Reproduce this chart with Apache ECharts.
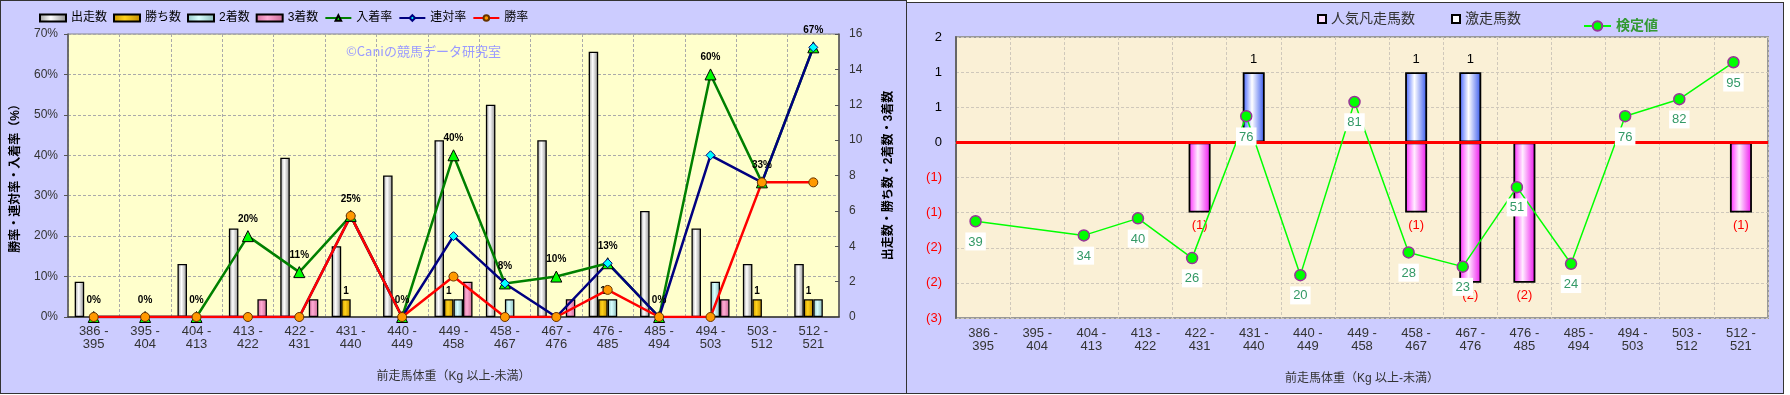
<!DOCTYPE html>
<html><head><meta charset="utf-8">
<script src="https://cdn.jsdelivr.net/npm/echarts@6/dist/echarts.min.js"></script>
<style>
html,body{margin:0;padding:0;background:#fff;width:1790px;height:395px;overflow:hidden;}
#left{position:absolute;left:0;top:0;width:906px;height:393px;}
#right{position:absolute;left:906px;top:2px;width:877px;height:391px;}
.frame{position:absolute;box-sizing:border-box;border:1px solid #333;pointer-events:none;}
</style></head><body>
<div id="left"></div><div id="right"></div>
<div class="frame" style="left:0;top:0;width:907px;height:394px"></div>
<div class="frame" style="left:906px;top:2px;width:878px;height:392px"></div>
<script>
// ---------- data ----------
const categories = ['386 -\n395','395 -\n404','404 -\n413','413 -\n422','422 -\n431','431 -\n440','440 -\n449','449 -\n458','458 -\n467','467 -\n476','476 -\n485','485 -\n494','494 -\n503','503 -\n512','512 -\n521'];
const runners      = [2, 0, 3, 5, 9, 4, 8, 10, 12, 10, 15, 6, 5, 3, 3];
const wins         = [0, 0, 0, 0, 0, 1, 0, 1, 0, 0, 1, 0, 0, 1, 1];
const seconds      = [0, 0, 0, 0, 0, 0, 0, 1, 1, 0, 1, 0, 2, 0, 1];
const thirds       = [0, 0, 0, 1, 1, 0, 0, 2, 0, 1, 0, 0, 1, 0, 0];
const placeRate    = [0, 0, 0, 20, 11.1, 25, 0, 40, 8.3, 10, 13.3, 0, 60, 33.3, 66.7];
const quinellaRate = [0, 0, 0, 0, 0, 25, 0, 20, 8.3, 0, 13.3, 0, 40, 33.3, 66.7];
const winRate      = [0, 0, 0, 0, 0, 25, 0, 10, 0, 0, 6.7, 0, 0, 33.3, 33.3];

const popularFailed = [0, 0, 0, 0, -1, 0, 0, 0, -1, -2, -2, 0, 0, 0, -1];
const longshotRan   = [0, 0, 0, 0, 0, 1, 0, 0, 1, 1, 0, 0, 0, 0, 0];
const testValue     = [39, null, 34, 40, 26, 76, 20, 81, 28, 23, 51, 24, 76, 82, 95];

const FONT = '"Liberation Sans","Noto Sans CJK JP",sans-serif';
const nz = a => a.map(v => v === 0 ? null : v);
const hgrad = (a, b, c) => ({type:'linear', x:0, y:0, x2:1, y2:0, colorStops:[{offset:0,color:a},{offset:0.42,color:b},{offset:1,color:c}]});

// ---------- left chart ----------
const left = echarts.init(document.getElementById('left'));
const barBase = {type:'bar', yAxisIndex:1, barGap:'0%', barCategoryGap:'26%'};
const bBorder = {borderColor:'#000', borderWidth:1.3};
left.setOption({
  backgroundColor:'#CCCCFF',
  textStyle:{fontFamily:FONT},
  animation:false,
  legend:{left:34, top:7, itemWidth:26, itemHeight:7, itemGap:6,
    textStyle:{fontSize:12, color:'#000', fontFamily:FONT},
    data:[{name:'出走数',icon:'rect'},{name:'勝ち数',icon:'rect'},{name:'2着数',icon:'rect'},{name:'3着数',icon:'rect'},'入着率','連対率','勝率']},
  graphic:[{type:'text', left:346, top:45, z:1, style:{text:'©Caniの競馬データ研究室', fill:'#9a9aff', font:'13px "Noto Sans CJK JP"'}}],
  grid:{left:68, top:34, width:771, height:283, show:true, backgroundColor:'#FFFFCC', borderColor:'#888', borderWidth:1},
  xAxis:{type:'category', data:categories, boundaryGap:true,
    name:'前走馬体重（Kg 以上-未満）', nameLocation:'middle', nameGap:54,
    nameTextStyle:{fontSize:12, color:'#333', fontFamily:FONT},
    axisLine:{lineStyle:{color:'#333', width:1.5}}, axisTick:{show:false},
    axisLabel:{fontSize:13, color:'#333', lineHeight:13, margin:8, interval:0, fontFamily:FONT},
    splitLine:{show:true, lineStyle:{color:'#aaa', type:[3,2]}}},
  yAxis:[
    {type:'value', min:0, max:70, interval:10, position:'left',
     name:'勝率・連対率・入着率（%）', nameLocation:'middle', nameGap:46, nameRotate:90,
     nameTextStyle:{fontSize:12, fontWeight:'bold', color:'#000', fontFamily:FONT},
     axisLine:{show:true, lineStyle:{color:'#555', width:1.5}}, axisTick:{show:true, length:4, lineStyle:{color:'#555'}},
     axisLabel:{formatter:'{value}%', fontSize:12, color:'#333', margin:10, fontFamily:FONT},
     splitLine:{show:true, lineStyle:{color:'#aaa', type:[3,2]}}},
    {type:'value', min:0, max:16, interval:2, position:'right',
     name:'出走数・勝ち数・2着数・3着数', nameLocation:'middle', nameGap:44, nameRotate:90,
     nameTextStyle:{fontSize:12, fontWeight:'bold', color:'#000', fontFamily:FONT},
     axisLine:{show:true, lineStyle:{color:'#555', width:1.5}}, axisTick:{show:true, inside:true, length:4, lineStyle:{color:'#555'}},
     axisLabel:{fontSize:12, color:'#333', margin:10, fontFamily:FONT},
     splitLine:{show:false}}
  ],
  series:[
    Object.assign({}, barBase, {name:'出走数', data:nz(runners), itemStyle:Object.assign({color:hgrad('#9c9c9c','#ffffff','#8c8c8c')}, bBorder)}),
    Object.assign({}, barBase, {name:'勝ち数', data:nz(wins), itemStyle:Object.assign({color:hgrad('#c89400','#ffd21a','#c08c00')}, bBorder),
      label:{show:true, position:'top', distance:3, fontSize:10, fontWeight:'bold', color:'#000', fontFamily:FONT}}),
    Object.assign({}, barBase, {name:'2着数', data:nz(seconds), itemStyle:Object.assign({color:hgrad('#8fc2c2','#d8ffff','#88b8b8')}, bBorder)}),
    Object.assign({}, barBase, {name:'3着数', data:nz(thirds), itemStyle:Object.assign({color:hgrad('#d0709c','#ffaad4','#c86894')}, bBorder)}),
    {name:'入着率', type:'line', yAxisIndex:0, data:placeRate, symbol:'triangle', symbolSize:11,
     lineStyle:{color:'#008000', width:2.5}, itemStyle:{color:'#00ff00', borderColor:'#000', borderWidth:1},
     label:{show:true, position:'top', distance:6, fontSize:10, fontWeight:'bold', color:'#000', fontFamily:FONT,
       formatter:p => Math.round(p.value) + '%'}},
    {name:'連対率', type:'line', yAxisIndex:0, data:quinellaRate, symbol:'diamond', symbolSize:9,
     lineStyle:{color:'#000080', width:2.5}, itemStyle:{color:'#00ffff', borderColor:'#000080', borderWidth:1}},
    {name:'勝率', type:'line', yAxisIndex:0, data:winRate, symbol:'circle', symbolSize:9,
     lineStyle:{color:'#ff0000', width:2.5}, itemStyle:{color:'#ff9900', borderColor:'#663300', borderWidth:1}}
  ]
});

// ---------- right chart ----------
const right = echarts.init(document.getElementById('right'));
const yFmt = v => { const r = Math.round(Math.abs(v)); return v < 0 ? '(' + r + ')' : String(r); };
right.setOption({
  backgroundColor:'#CCCCFF',
  textStyle:{fontFamily:FONT},
  animation:false,
  legend:[
    {left:406, top:5, itemWidth:8, itemHeight:8, itemGap:36, textStyle:{fontSize:14, color:'#333', fontFamily:FONT},
     data:[{name:'人気凡走馬数', icon:'rect', itemStyle:{color:'#ffe0ff', borderColor:'#000', borderWidth:2}},
           {name:'激走馬数', icon:'rect', itemStyle:{color:'#ffffff', borderColor:'#000', borderWidth:2}}]},
    {left:672, top:12, itemWidth:27, itemHeight:12, textStyle:{fontSize:14, fontWeight:'bold', color:'#339933', fontFamily:FONT},
     data:['検定値']}
  ],
  grid:[
    {left:50, top:35, width:812, height:281, show:true, backgroundColor:'#FAF0D6', borderColor:'#999', borderWidth:2},
    {left:42.5, top:35, width:812, height:281, show:false}
  ],
  xAxis:[
    {gridIndex:0, type:'category', data:categories, boundaryGap:true,
     name:'前走馬体重（Kg 以上-未満）', nameLocation:'middle', nameGap:55,
     nameTextStyle:{fontSize:12, color:'#333', fontFamily:FONT},
     axisLine:{show:true, lineStyle:{color:'#999', width:2}}, axisTick:{show:false},
     axisLabel:{fontSize:13, color:'#333', lineHeight:13, margin:9, interval:0, fontFamily:FONT},
     splitLine:{show:true, lineStyle:{color:'#cfc8bb', type:[3,2]}}},
    {gridIndex:1, type:'category', data:categories, boundaryGap:true, show:false}
  ],
  yAxis:[
    {gridIndex:0, type:'value', min:-2.5, max:1.5, interval:0.5,
     axisLine:{show:true, lineStyle:{color:'#666', width:2}}, axisTick:{show:false},
     axisLabel:{formatter:yFmt, fontSize:13, margin:14, fontFamily:FONT,
       color:(v) => (Number(v) < 0 ? '#ff0000' : '#000')},
     splitLine:{show:true, lineStyle:{color:'#cfc8bb', type:[3,2]}}},
    {gridIndex:1, type:'value', min:4.9, max:103.9, show:false, splitLine:{show:false}}
  ],
  series:[
    {name:'人気凡走馬数', type:'bar', stack:'s', barWidth:22, xAxisIndex:0, yAxisIndex:0, data:nz(popularFailed),
     itemStyle:{color:hgrad('#ff22ff','#ffeeff','#ee11ee'), borderColor:'#000', borderWidth:1.8},
     label:{show:true, position:'bottom', distance:6, fontSize:13, color:'#ff0000', fontFamily:FONT, formatter:p => '(' + Math.abs(p.value) + ')'}},
    {name:'激走馬数', type:'bar', stack:'s', barWidth:22, xAxisIndex:0, yAxisIndex:0, data:nz(longshotRan),
     itemStyle:{color:hgrad('#3a5cff','#ffffff','#3355ee'), borderColor:'#000', borderWidth:1.8},
     label:{show:true, position:'top', distance:6, fontSize:13, color:'#000', fontFamily:FONT},
     markLine:{silent:true, symbol:'none', label:{show:false}, lineStyle:{color:'#ff0000', width:3, type:'solid'}, data:[{yAxis:0}]}},
    {name:'検定値', type:'line', xAxisIndex:1, yAxisIndex:1, data:testValue, connectNulls:true,
     symbol:'circle', symbolSize:11, z:5,
     lineStyle:{color:'#00ff00', width:1.5}, itemStyle:{color:'#00ff00', borderColor:'#993399', borderWidth:1.5},
     label:{show:true, position:'bottom', distance:5, fontSize:13, color:'#339966', backgroundColor:'#ffffff', padding:[3,3,2,3], fontFamily:FONT}}
  ]
});
</script>
</body></html>
